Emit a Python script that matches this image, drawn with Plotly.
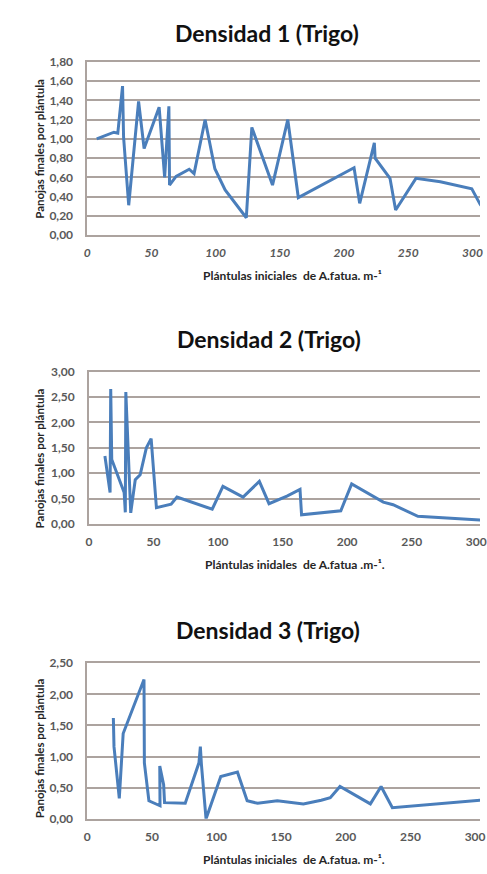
import plotly.graph_objects as go

# ---------------- data ----------------
titles = ["Densidad 1 (Trigo)", "Densidad 2 (Trigo)", "Densidad 3 (Trigo)"]
ytitle = "Panojas finales por plántula"
xtitles = ["Plántulas iniciales  de A.fatua. m-¹",
           "Plántulas inidales  de A.fatua .m-¹.",
           "Plántulas iniciales  de A.fatua. m-¹."]

x1 = [7.4, 20.8, 23.8, 27.5, 28.3, 32.3, 40.0, 44.3, 56.0, 60.3, 63.6, 64.1, 69.2, 79.4, 83.2,
      91.8, 99.4, 107.4, 123.9, 128.2, 144.3, 156.2, 164.4, 207.8, 212.2, 223.6, 224.2, 235.8,
      240.2, 256.0, 275.0, 299.5, 306.0, 312.0]
y1 = [1.00, 1.07, 1.06, 1.55, 1.02, 0.31, 1.39, 0.90, 1.33, 0.60, 1.34, 0.52, 0.61, 0.685, 0.64,
      1.20, 0.69, 0.47, 0.18, 1.12, 0.52, 1.20, 0.39, 0.70, 0.33, 0.96, 0.80, 0.59,
      0.26, 0.59, 0.555, 0.48, 0.32, 0.22]

x2 = [12.4, 16.4, 16.9, 17.7, 27.3, 28.2, 28.6, 32.4, 35.9, 39.7, 44.5, 48.2, 52.3, 63.7, 68.2,
      95.5, 103.8, 119.4, 132.0, 139.5, 153.4, 163.5, 164.7, 195.1, 203.5, 228.0, 235.6, 254.8,
      302.8, 310.0]
y2 = [1.34, 0.62, 2.66, 1.27, 0.62, 0.23, 2.60, 0.22, 0.87, 0.97, 1.50, 1.68, 0.32, 0.39, 0.53,
      0.29, 0.74, 0.53, 0.84, 0.40, 0.55, 0.68, 0.18, 0.26, 0.79, 0.43, 0.38, 0.15,
      0.08, 0.07]

x3 = [20.2, 20.7, 24.8, 27.8, 43.9, 44.2, 47.7, 56.3, 56.1, 59.1, 59.8, 75.8, 86.4, 87.5, 88.3,
      91.9, 103.3, 116.2, 123.7, 131.8, 147.0, 167.2, 181.0, 188.0, 195.5, 219.0, 227.3, 236.0,
      303.8, 310.0]
y3 = [1.62, 1.16, 0.33, 1.37, 2.24, 0.90, 0.29, 0.21, 0.85, 0.55, 0.26, 0.25, 0.90, 1.16, 0.88,
      0.00, 0.68, 0.75, 0.29, 0.25, 0.29, 0.24, 0.30, 0.34, 0.52, 0.24, 0.52, 0.18,
      0.30, 0.30]

xticks = [0, 50, 100, 150, 200, 250, 300]
ymax = [1.8, 3.0, 2.5]
ystep = [0.2, 0.5, 0.5]

# ---------------- layout geometry (pixels) ----------------
W, H = 487, 874
panels = [
    dict(left=86.0, top=55.0, bottom=231.0, xr=305.9, xt_y=272.0, t_y=25.0, yt_y=143.0, italic=True),
    dict(left=87.7, top=370.0, bottom=525.0, xr=302.9, xt_y=566.5, t_y=336.5, yt_y=458.0, italic=False),
    dict(left=86.0, top=666.7, bottom=825.0, xr=303.8, xt_y=866.0, t_y=633.0, yt_y=753.0, italic=False),
]
xt_cx = [296, 298, 297.5]
t_cx = [270, 272, 271]

grid = "#aca39f"
line_col = "#4a7ebb"
tick_col = "#595959"
FONT = "Lato"

fig = go.Figure()
data = [(x1, y1), (x2, y2), (x3, y3)]
annotations = []
for i, ((xs, ys), p) in enumerate(zip(data, panels)):
    n = "" if i == 0 else str(i + 1)
    fig.add_trace(go.Scatter(x=xs, y=ys, mode="lines",
                             line=dict(color=line_col, width=3),
                             xaxis="x" + n, yaxis="y" + n, showlegend=False,
                             hoverinfo="skip"))
    fig.layout["xaxis" + n] = dict(
        domain=[p["left"] / W, 1.0], range=[0, p["xr"]], anchor="y" + n,
        tickvals=xticks, showgrid=False, zeroline=False,
        showline=True, linecolor=grid, linewidth=1.5, mirror=True,
        ticks="", ticklabelstandoff=6, ticklabeloverflow="allow",
        tickfont=dict(family=FONT, size=12, color=tick_col, weight="bold",
                      style="italic" if p["italic"] else "normal"),
    )
    fig.layout["yaxis" + n] = dict(
        domain=[1 - p["bottom"] / H, 1 - p["top"] / H], range=[0, ymax[i]],
        anchor="x" + n, dtick=ystep[i], tick0=0, tickformat=".2f",
        showgrid=True, gridcolor=grid, gridwidth=1.5, zeroline=False,
        showline=True, linecolor=grid, linewidth=1.5,
        ticks="", ticklabelstandoff=10,
        tickfont=dict(family=FONT, size=12, color=tick_col, weight="bold"),
    )
    annotations.append(dict(text="<b>%s</b>" % titles[i], x=t_cx[i] / W, y=1 - p["t_y"] / H,
                            xref="paper", yref="paper", showarrow=False,
                            xanchor="center", yanchor="middle",
                            font=dict(family=FONT, size=23, color="#111111")))
    annotations.append(dict(text="<b>%s</b>" % xtitles[i], x=xt_cx[i] / W, y=1 - p["xt_y"] / H,
                            xref="paper", yref="paper", showarrow=False,
                            xanchor="center", yanchor="middle",
                            font=dict(family=FONT, size=12, color="#262626")))
    annotations.append(dict(text="<b>%s</b>" % ytitle, x=37 / W, y=1 - p["yt_y"] / H,
                            xref="paper", yref="paper", showarrow=False, textangle=-90,
                            xanchor="center", yanchor="middle",
                            font=dict(family=FONT, size=11.5, color="#262626")))

fig.update_layout(
    width=W, height=H, autosize=False,
    margin=dict(l=0, r=0, t=0, b=0),
    paper_bgcolor="white", plot_bgcolor="white",
    separators=",.",
    annotations=annotations,
    font=dict(family=FONT),
)

fig.write_html(
    "out.html",
    config={"displayModeBar": False},
    post_script="document.body.style.margin='0';document.body.style.overflow='hidden';",
)
